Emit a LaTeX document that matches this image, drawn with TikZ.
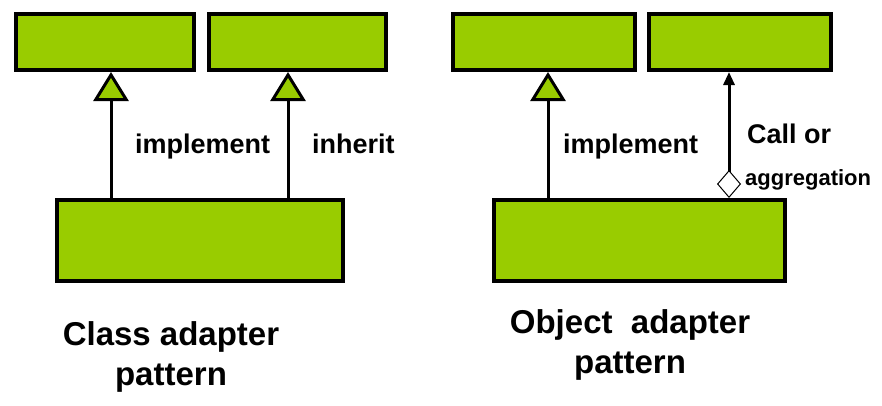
\documentclass[tikz,border=0pt]{standalone}
\usepackage{fontspec}
\setmainfont{Liberation Sans}
\usepackage{xcolor}
\usetikzlibrary{arrows.meta,calc}
\definecolor{adgreen}{HTML}{99CC00}

\begin{document}
\begin{tikzpicture}
	[x=1pt,y=-1pt,every node/.style={inner sep=0pt}]
	\tikzstyle{box} = [draw=black, fill=adgreen, line width=4pt];
	\tikzstyle{realize} = [line width=3pt, -{Triangle[length=29pt,width=35pt,fill=adgreen]}];
	\tikzstyle{uses} = [line width=3pt, {Diamond[length=28pt,width=24pt,fill=white,line width=1pt]}-{Triangle[length=13pt,width=11pt]}];
	\tikzstyle{lbl} = [font=\bfseries\fontsize{27}{32}\selectfont, anchor=base west];
	\tikzstyle{title} = [font=\bfseries\fontsize{33}{40}\selectfont, align=center];
	
	\useasboundingbox (0,0) rectangle (882,405);
	
	% class adapter
	\node[box, minimum width=178pt, minimum height=56pt] (t1) at (105,42) {};
	\node[box, minimum width=177pt, minimum height=56pt] (t2) at (297.5,42) {};
	\node[box, minimum width=286pt, minimum height=81pt] (cls) at (200,240.5) {};
	\draw[realize] ([xshift=56pt]cls.north west) -- ([xshift=56pt]cls.north west |- t1.south);
	\draw[realize] ([xshift=233pt]cls.north west) -- ([xshift=233pt]cls.north west |- t2.south);
	\node[lbl] (imp1) at (135,153) {implement};
	\node[lbl] (inh) at (312,153) {inherit};
	\node[title] (ttl1) at (171,357) {Class adapter\\pattern};
	
	% object adapter
	\node[box, minimum width=182pt, minimum height=56pt] (t3) at (544,42) {};
	\node[box, minimum width=182pt, minimum height=56pt] (t4) at (740,42) {};
	\node[box, minimum width=291pt, minimum height=81pt] (obj) at (639.5,240.5) {};
	\draw[realize] ([xshift=56pt]obj.north west) -- ([xshift=56pt]obj.north west |- t3.south);
	\draw[uses] ([xshift=237pt]obj.north west) -- ([xshift=237pt]obj.north west |- t4.south);
	\node[lbl] (imp2) at (563,153) {implement};
	\node[lbl] (call) at (747,143) {Call or};
	\node[lbl, font=\bfseries\fontsize{22}{26}\selectfont] (aggr) at (745,185) {aggregation};
	\node[title] (ttl2) at (630,345) {Object~~adapter\\pattern};
\end{tikzpicture}
\end{document}
